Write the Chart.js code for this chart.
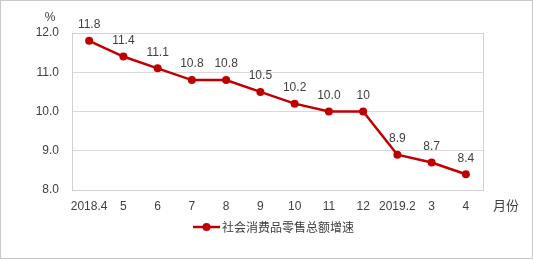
<!DOCTYPE html>
<html>
<head>
<meta charset="utf-8">
<script src="https://cdn.jsdelivr.net/npm/chart.js@4/dist/chart.umd.min.js"></script>
<style>
  html, body { margin: 0; padding: 0; background: #fff; }
  #wrap { width: 533px; height: 261px; position: relative; }
</style>
</head>
<body>
<div id="wrap"><canvas id="retailCanvas"></canvas></div>
<script>
  // Months shown on the x axis
  const months = ["2018.4", "5", "6", "7", "8", "9", "10", "11", "12", "2019.2", "3", "4"];
  // Growth rate of retail sales, %
  const growth = [11.8, 11.4, 11.1, 10.8, 10.8, 10.5, 10.2, 10.0, 10.0, 8.9, 8.7, 8.4];
  // Labels as printed above each point
  const growthLabels = ["11.8", "11.4", "11.1", "10.8", "10.8", "10.5", "10.2", "10.0", "10", "8.9", "8.7", "8.4"];
  const yTicks = [8, 9, 10, 11, 12];

  const red = "#c00000";
  const textColor = "#404040";
  const fontFamily = "'Liberation Sans', 'Noto Sans CJK SC', sans-serif";

  // Draws frame, value labels, unit labels and legend
  const extras = {
    id: "extras",
    afterDraw(chart) {
      const ctx = chart.ctx;
      const area = chart.chartArea;
      ctx.save();
      // outer border
      ctx.strokeStyle = "#c8c8c8";
      ctx.lineWidth = 1;
      ctx.strokeRect(0.5, 0.5, 532, 258);
      // plot frame
      ctx.strokeStyle = "#d0d0d0";
      ctx.strokeRect(area.left + 0.5, area.top + 0.5, area.right - area.left, area.bottom - area.top);

      // value labels
      ctx.fillStyle = textColor;
      ctx.font = "12px " + fontFamily;
      ctx.textAlign = "center";
      ctx.textBaseline = "middle";
      const meta = chart.getDatasetMeta(0);
      meta.data.forEach((pt, i) => {
        ctx.fillText(growthLabels[i], pt.x, pt.y - 16);
      });

      // unit labels
      ctx.fillText("%", 50, 18);
      ctx.font = "13px 'Noto Sans CJK SC', sans-serif";
      ctx.fillText("月份", 506, 205);

      // legend
      const ly = 227;
      ctx.strokeStyle = red;
      ctx.lineWidth = 2.5;
      ctx.beginPath();
      ctx.moveTo(193, ly);
      ctx.lineTo(220, ly);
      ctx.stroke();
      ctx.fillStyle = red;
      ctx.beginPath();
      ctx.arc(206.5, ly, 4, 0, Math.PI * 2);
      ctx.fill();
      ctx.fillStyle = textColor;
      ctx.textAlign = "left";
      ctx.font = "12px 'Noto Sans CJK SC', sans-serif";
      ctx.fillText(chart.data.datasets[0].label, 222, ly);
      ctx.restore();
    }
  };

  const retailChart = new Chart(document.getElementById("retailCanvas"), {
    type: "line",
    data: {
      labels: months,
      datasets: [{
        label: "社会消费品零售总额增速",
        data: growth,
        borderColor: red,
        backgroundColor: red,
        borderWidth: 2.5,
        pointRadius: 4,
        pointBackgroundColor: red,
        pointBorderWidth: 0,
        tension: 0
      }]
    },
    options: {
      responsive: true,
      maintainAspectRatio: false,
      animation: false,
      layout: { padding: { top: 33, right: 50, left: 0, bottom: 0 } },
      plugins: {
        legend: { display: false },
        tooltip: { enabled: false }
      },
      scales: {
        x: {
          offset: true,
          grid: { display: false, drawTicks: false },
          border: { display: false },
          ticks: {
            color: textColor,
            font: { size: 12, family: fontFamily },
            padding: 9,
            maxRotation: 0,
            autoSkip: false
          },
          afterFit(scale) { scale.height = 71; }
        },
        y: {
          min: 8,
          max: 12,
          afterBuildTicks(scale) { scale.ticks = yTicks.map(v => ({ value: v })); },
          grid: { color: "#d9d9d9", drawTicks: false },
          border: { display: true, color: "#bfbfbf" },
          ticks: {
            color: textColor,
            font: { size: 12, family: fontFamily },
            padding: 13,
            callback: v => v.toFixed(1)
          },
          afterFit(scale) { scale.width = 72; }
        }
      }
    },
    plugins: [extras]
  });
</script>
</body>
</html>
